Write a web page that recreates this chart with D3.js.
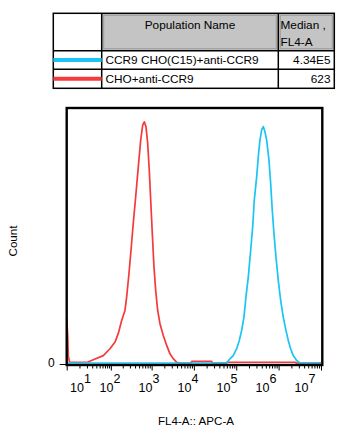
<!DOCTYPE html>
<html><head><meta charset="utf-8">
<script src="https://cdn.jsdelivr.net/npm/d3@7"></script>
<style>
html,body{margin:0;padding:0;background:#fff;}
svg{display:block;font-family:"Liberation Sans",Arial,sans-serif;}
</style></head>
<body><svg id="c" width="349" height="436"></svg>
<script>
// ---------- data ----------
const populations = ["CCR9 CHO(C15)+anti-CCR9", "CHO+anti-CCR9"];
const medians = ["4.34E5", "623"];
const seriesColors = ["#1ac5f3", "#f43a3a"];
// blue histogram: intensity (FL4-A) and count (% of max)
const blueX = [0, 59440, 71110, 85090, 102360, 117950, 134370, 152320, 169720, 192320, 219170, 244300, 266500, 303500, 331100, 363160, 398200, 434400, 476300, 522400, 591600, 649200, 708200, 776400, 865800, 981000, 1117000, 1287000, 1490000, 1689000, 1923000, 2215000, 2668000, 3193000, 10000000];
const blueY = [0, 0, 1.65, 2.9, 5.6, 8.8, 12.8, 18.0, 25.9, 33.7, 44.2, 53.4, 63.9, 73.0, 80.9, 87.4, 91.4, 92.7, 90.7, 87.4, 79.6, 70.4, 59.9, 50.8, 41.6, 32.4, 24.6, 18.0, 12.8, 8.8, 5.6, 2.9, 1.0, 0, 0];
// red histogram
const redX = [0, 0.56, 0.91, 1.64, 5.7, 21.8, 32.4, 63, 95, 128, 155, 188, 227, 250, 285, 319, 362, 414, 479, 547, 611, 667, 732, 804, 878, 949, 1036, 1137, 1247, 1392, 1578, 1890, 2276, 2725, 3260, 3920, 4700, 8550, 8900, 26370, 27000, 59000, 60530, 2570000, 2600000, 10000000];
const redY = [17.5, 10.8, 2.9, 0.4, 0.3, 0.4, 1.3, 2.9, 5.6, 8.2, 11.6, 16.7, 20.6, 25.9, 35.2, 44.2, 54.8, 65.1, 76.9, 87.4, 93.3, 94.6, 92.7, 86.1, 75.6, 63.9, 50.9, 37.6, 28.5, 20.6, 15.4, 10.8, 6.9, 3.6, 1.7, 0.3, 0, 0, 0.6, 0.6, 0, 0, 0.3, 0.3, 0, 0];
const majorTicks = [0, 1e2, 1e3, 1e4, 1e5, 1e6, 1e7];
const decadeLabels = [1, 2, 3, 4, 5, 6, 7];
const yTicks = [0];
const xTitle = "FL4-A:: APC-A";
const yTitle = "Count";
const headerPop = "Population Name";
const headerMed = ["Median ,", "FL4-A"];

// ---------- drawing ----------
const svg = d3.select("#c");
const L = 66.7, R = 321, T = 108, B = 365, Y0 = 363;
const x = d3.scaleSymlog().constant(10).domain([0, 1e7]).range([L, R]);
const y = d3.scaleLinear().domain([0, 100]).range([Y0, T]);
const labelX = d3.scaleLinear().domain([1, 2, 7]).range([80.5, 110, 305]);

const minorTicks = [10];
for (let k = 2; k <= 9; k++) minorTicks.push(k * 10);
for (let d = 2; d <= 6; d++) for (let k = 2; k <= 9; k++) minorTicks.push(k * Math.pow(10, d));

// minor ticks
const gMin = svg.append("g").attr("transform", `translate(0,${B})`)
  .call(d3.axisBottom(x).tickValues(minorTicks).tickSize(3.5).tickFormat(""));
gMin.select(".domain").remove();
const gMaj = svg.append("g").attr("transform", `translate(0,${B})`)
  .call(d3.axisBottom(x).tickValues(majorTicks).tickSize(5.5).tickFormat(""));
gMaj.select(".domain").remove();
svg.selectAll(".tick line").attr("stroke", "#000").attr("stroke-width", 1);

// decade labels
const lab = svg.append("g").selectAll("text").data(decadeLabels).join("text")
  .attr("x", d => labelX(d)).attr("y", 391.5)
  .attr("text-anchor", "middle").attr("font-size", 12.5).attr("fill", "#000");
lab.append("tspan").text("10");
lab.append("tspan").attr("dy", -9).text(d => d);

// y axis
const gy = svg.append("g").attr("transform", `translate(${L},0)`)
  .call(d3.axisLeft(y).tickValues(yTicks).tickSize(7).tickPadding(5).tickFormat(d3.format("d")));
gy.select(".domain").remove();
gy.selectAll("line").attr("stroke", "#000").attr("transform", "translate(0,1)");
gy.selectAll("text").attr("font-size", 12).attr("fill", "#000").attr("font-family", "Liberation Sans, Arial, sans-serif");

// curves
const line = d3.line().x(d => x(d[0])).y(d => y(d[1]));
const redPts = redX.map((v, i) => [v, redY[i]]);
const bluePts = blueX.map((v, i) => [v, blueY[i]]);
svg.append("path").datum(redPts).attr("d", line).attr("fill", "none")
  .attr("stroke", seriesColors[1]).attr("stroke-width", 1.7).attr("stroke-linejoin", "round");
svg.append("path").datum(bluePts).attr("d", line).attr("fill", "none")
  .attr("stroke", seriesColors[0]).attr("stroke-width", 1.7).attr("stroke-linejoin", "round");

// frame
svg.append("rect").attr("x", L).attr("y", T).attr("width", 322.3 - L).attr("height", B - T)
  .attr("fill", "none").attr("stroke", "#000").attr("stroke-width", 2.4);

// titles
svg.append("text").attr("x", 196).attr("y", 425).attr("text-anchor", "middle")
  .attr("font-size", 11.6).text(xTitle);
svg.append("text").attr("transform", "translate(17,241) rotate(-90)").attr("text-anchor", "middle")
  .attr("font-size", 11.6).text(yTitle);

// ---------- legend table ----------
const tx0 = 53.3, tx1 = 101.7, tx2 = 278.3, tx3 = 334.3;
const ty0 = 13.3, ty1 = 50.7, ty2 = 69.3, ty3 = 88.3;
const tbl = svg.append("g");
// gray header cells
[[tx1, tx2], [tx2, tx3]].forEach(([a, b]) => {
  tbl.append("rect").attr("x", a).attr("y", ty0).attr("width", b - a).attr("height", ty1 - ty0).attr("fill", "#c4c4c4");
  tbl.append("rect").attr("x", a + 2).attr("y", ty0 + 2).attr("width", b - a - 4).attr("height", ty1 - ty0 - 4)
    .attr("fill", "none").attr("stroke", "#9a9a9a").attr("stroke-width", 1);
});
// grid
tbl.append("rect").attr("x", tx0).attr("y", ty0).attr("width", tx3 - tx0).attr("height", ty3 - ty0)
  .attr("fill", "none").attr("stroke", "#000").attr("stroke-width", 1.5);
[tx1, tx2].forEach(v => tbl.append("line").attr("x1", v).attr("x2", v).attr("y1", ty0).attr("y2", ty3).attr("stroke", "#000").attr("stroke-width", 1.5));
[ty1, ty2].forEach(v => tbl.append("line").attr("x1", tx0).attr("x2", tx3).attr("y1", v).attr("y2", v).attr("stroke", "#000").attr("stroke-width", 1.5));
// header text
tbl.append("text").attr("x", (tx1 + tx2) / 2).attr("y", 29).attr("text-anchor", "middle").attr("font-size", 11.8).text(headerPop);
headerMed.forEach((t, i) => tbl.append("text").attr("x", 280.5).attr("y", 29 + i * 16.7).attr("font-size", 11.8).text(t));
// rows
const rowY = [ty1, ty2];
const rowB = [ty2, ty3];
populations.forEach((p, i) => {
  const mid = (rowY[i] + rowB[i]) / 2;
  tbl.append("line").attr("x1", tx0).attr("x2", tx1).attr("y1", mid).attr("y2", mid)
    .attr("stroke", seriesColors[i]).attr("stroke-width", 4);
  tbl.append("text").attr("x", 105.5).attr("y", rowB[i] - 5).attr("font-size", 11.8).text(p);
  tbl.append("text").attr("x", 330.5).attr("y", rowB[i] - 5).attr("text-anchor", "end").attr("font-size", 11.8).text(medians[i]);
});
</script></body></html>
